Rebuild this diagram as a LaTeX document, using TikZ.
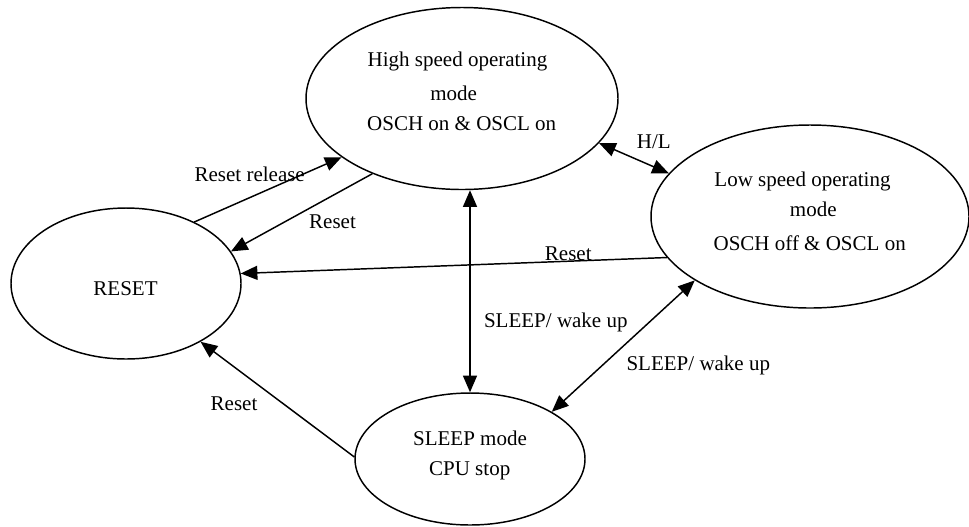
\documentclass[tikz,border=0pt]{standalone}
\usepackage{fontspec}
\setmainfont{Liberation Serif}
\usetikzlibrary{shapes.geometric,arrows.meta}
\begin{document}
\begin{tikzpicture}[x=0.75pt,y=-0.75pt,
  state/.style={draw,ellipse,line width=1.1pt,inner sep=0pt},
  txt/.style={inner sep=0pt,anchor=base,font=\fontsize{15.75}{18}\selectfont},
  arr/.style={line width=1.1pt,-{Triangle[length=12.5pt,width=10.5pt]}},
  darr/.style={line width=1.1pt,{Triangle[length=12.5pt,width=10.5pt]}-{Triangle[length=12.5pt,width=10.5pt]}}]
\useasboundingbox (0,0) rectangle (969,526);
% states
\node[state,minimum width=234pt,minimum height=136.5pt] (high) at (462,98.5) {};
\node[state,minimum width=238.5pt,minimum height=137.25pt] (low) at (810,216.5) {};
\node[state,minimum width=172.5pt,minimum height=113.25pt] (reset) at (126,283.5) {};
\node[state,minimum width=172.5pt,minimum height=99pt] (sleep) at (470,459) {};
% state texts
\node[txt] (h1) at (457.5,66.7) {High speed operating};
\node[txt] (h2) at (453.7,100) {mode};
\node[txt] (h3) at (461.7,130.7) {OSCH on \& OSCL on};
\node[txt] (l1) at (802.5,186) {Low speed operating};
\node[txt] (l2) at (813.3,216.7) {mode};
\node[txt] (l3) at (809.7,250) {OSCH off \& OSCL on};
\node[txt] (r1) at (125.5,295) {RESET};
\node[txt] (s1) at (470,445) {SLEEP mode};
\node[txt] (s2) at (469.7,475) {CPU stop};
% connectors
\draw[arr] (reset.42.5) -- (high.206);
\draw[arr] (high.220) -- (reset.17.6);
\draw[darr] (high.south -| sleep.north) -- (sleep.north);
\draw[darr] (low.209.2) -- (sleep.30.6);
\draw[darr] (high.342.5) -- (low.163.3);
\draw[arr] (low.196.4) -- (reset.5.2);
\draw[arr] (sleep.179.5) -- (reset.322.7);
% labels
\node[txt] (lb1) at (249.7,181.7) {Reset release};
\node[txt] (lb2) at (332.5,228.3) {Reset};
\node[txt] (lb3) at (653.8,148.3) {H/L};
\node[txt] (lb4) at (568.3,260) {Reset};
\node[txt] (lb5) at (234,410.3) {Reset};
\node[txt] (lb6) at (555.8,327.3) {SLEEP/ wake up};
\node[txt] (lb7) at (698.3,370.3) {SLEEP/ wake up};
\end{tikzpicture}
\end{document}
